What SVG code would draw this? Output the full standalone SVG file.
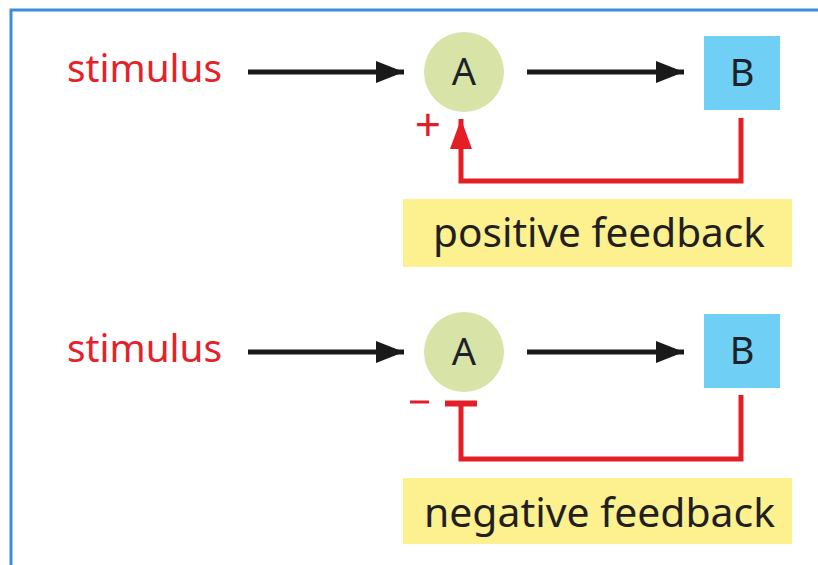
<svg xmlns="http://www.w3.org/2000/svg" width="818" height="565" viewBox="0 0 818 565">
<style>
.lbl{font-family:"Noto Sans","Open Sans",sans-serif;font-size:38px;fill:#e52229}
.node{font-family:"Noto Sans","Open Sans",sans-serif;font-size:38px;fill:#1d2228;text-anchor:middle}
.fb{font-family:"Noto Sans","Open Sans",sans-serif;font-size:40px;fill:#231f20}
.circ{fill:#d7e3a7}
.box{fill:#6fcff5}
.ybox{fill:#fcf08f}
.blk{stroke:#1a1a1a;stroke-width:5;fill:none}
.red{stroke:#e31e26;stroke-width:5;fill:none}
.sign{font-family:"Noto Sans","Open Sans",sans-serif;font-size:46px;fill:#e31e26;text-anchor:middle}
</style>
<defs>
<marker id="ah" markerUnits="userSpaceOnUse" markerWidth="30" markerHeight="22" refX="28" refY="11" orient="auto">
<path d="M0,0 L28,11 L0,22 Z" fill="#1a1a1a"/>
</marker>
<marker id="rh" markerUnits="userSpaceOnUse" markerWidth="30" markerHeight="22" refX="30" refY="11" orient="auto">
<path d="M0,0 L30,11 L0,22 Z" fill="#e31e26"/>
</marker>
</defs>
<rect width="818" height="565" fill="#ffffff"/>
<path d="M11,565 V10 H818" fill="none" stroke="#3b8fd8" stroke-width="3"/>

<g id="stimulus1"><text class="lbl" x="67" y="82" textLength="155" lengthAdjust="spacingAndGlyphs">stimulus</text></g>
<g id="A1"><circle class="circ" cx="464" cy="72" r="40"/><text class="node" x="464" y="85">A</text></g>
<g id="B1"><rect class="box" x="704" y="36" width="76" height="74"/><text class="node" x="742" y="86">B</text></g>
<g id="pos-label"><rect class="ybox" x="403" y="199" width="389" height="68"/><text class="fb" x="433" y="247" textLength="332" lengthAdjust="spacingAndGlyphs">positive feedback</text></g>
<g id="plus"><text class="sign" x="428" y="141">+</text></g>

<g id="stimulus2"><text class="lbl" x="67" y="362" textLength="155" lengthAdjust="spacingAndGlyphs">stimulus</text></g>
<g id="A2"><circle class="circ" cx="464" cy="352" r="40"/><text class="node" x="464" y="365">A</text></g>
<g id="B2"><rect class="box" x="704" y="314" width="76" height="74"/><text class="node" x="742" y="364">B</text></g>
<g id="neg-label"><rect class="ybox" x="403" y="478" width="389" height="66"/><text class="fb" x="424" y="527" textLength="351" lengthAdjust="spacingAndGlyphs">negative feedback</text></g>
<g id="minus"><line x1="410" y1="402" x2="429" y2="402" stroke="#e31e26" stroke-width="3"/></g>

<g id="connectors">
<line class="blk" x1="248" y1="72" x2="404" y2="72" marker-end="url(#ah)"/>
<line class="blk" x1="527" y1="72" x2="684" y2="72" marker-end="url(#ah)"/>
<path class="red" d="M741,118 V181 H461 V119" marker-end="url(#rh)"/>
<line class="blk" x1="248" y1="352" x2="404" y2="352" marker-end="url(#ah)"/>
<line class="blk" x1="527" y1="352" x2="684" y2="352" marker-end="url(#ah)"/>
<path class="red" d="M741,395 V459 H461 V403"/>
<line x1="445" y1="403.5" x2="477" y2="403.5" stroke="#e31e26" stroke-width="6"/>
</g>
</svg>
